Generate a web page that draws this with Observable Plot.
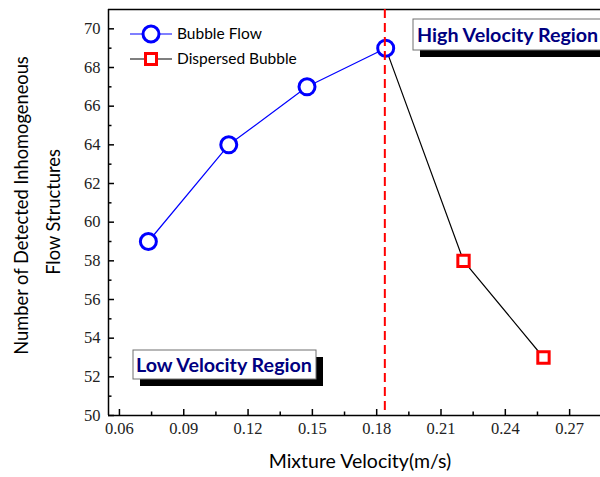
<!DOCTYPE html>
<html><head><meta charset="utf-8">
<script src="https://cdn.jsdelivr.net/npm/d3@7"></script>
<script src="https://cdn.jsdelivr.net/npm/@observablehq/plot@0.6"></script>
<style>body{margin:0;background:#fff;overflow:hidden}</style>
</head><body><div id="chart"></div>
<script>
const xTicks = [0.06, 0.09, 0.12, 0.15, 0.18, 0.21, 0.24, 0.27];
const xMinorTicks = [0.075, 0.105, 0.135, 0.165, 0.195, 0.225, 0.255];
const yTicks = [50, 52, 54, 56, 58, 60, 62, 64, 66, 68, 70];
const yMinorTicks = [51, 53, 55, 57, 59, 61, 63, 65, 67, 69];
const bubbleX = [0.0735, 0.111, 0.1475, 0.1842];
const bubbleY = [59, 64, 67, 69];
const dispersedX = [0.2205, 0.2578];
const dispersedY = [58, 53];
const transitionX = 0.1838;
const seriesNames = ["Bubble Flow", "Dispersed Bubble"];
const regionLabels = ["High Velocity Region", "Low Velocity Region"];
const xLabel = "Mixture Velocity(m/s)";
const yLabel = ["Number of Detected Inhomogeneous", "Flow Structures"];

const bubble = bubbleX.map((x, i) => ({x, y: bubbleY[i]}));
const dispersed = dispersedX.map((x, i) => ({x, y: dispersedY[i]}));
const connector = [bubble[bubble.length - 1], ...dispersed];

const SANS = "Lato, 'Open Sans', sans-serif";
const SERIF = "'Liberation Serif', 'DejaVu Serif', serif";

function overlay(index, scales, values, dims) {
  const g = d3.create("svg:g").attr("text-anchor", "start");
  const L = dims.marginLeft, T = dims.marginTop;
  // Legend
  const lg = g.append("g").attr("font-family", SANS).attr("font-size", 15.5);
  const rows = [
    {y: T + 25, line: "blue", kind: "circle", stroke: "blue"},
    {y: T + 50, line: "black", kind: "square", stroke: "red"}
  ];
  rows.forEach((r, i) => {
    lg.append("line").attr("x1", L + 22).attr("x2", L + 64).attr("y1", r.y).attr("y2", r.y)
      .attr("stroke", r.line).attr("stroke-width", 1.2);
    if (r.kind === "circle") {
      lg.append("circle").attr("cx", L + 43).attr("cy", r.y).attr("r", 8)
        .attr("fill", "white").attr("stroke", r.stroke).attr("stroke-width", 3);
    } else {
      lg.append("rect").attr("x", L + 43 - 5.5).attr("y", r.y - 5.5).attr("width", 11).attr("height", 11)
        .attr("fill", "white").attr("stroke", r.stroke).attr("stroke-width", 3);
    }
    lg.append("text").attr("x", L + 69).attr("y", r.y).attr("dy", "0.35em").text(seriesNames[i]);
  });
  // Region boxes
  const boxes = [
    {x: L + 305, y: T + 10, w: 200, h: 31, text: regionLabels[0], tx: L + 309},
    {x: L + 25, y: T + 341, w: 183, h: 29, text: regionLabels[1], tx: L + 28}
  ];
  boxes.forEach(b => {
    g.append("rect").attr("x", b.x + 7).attr("y", b.y + 7).attr("width", b.w).attr("height", b.h).attr("fill", "black");
    g.append("rect").attr("x", b.x).attr("y", b.y).attr("width", b.w).attr("height", b.h)
      .attr("fill", "white").attr("stroke", "#707070").attr("stroke-width", 1);
    g.append("text").attr("x", b.tx).attr("y", b.y + b.h / 2).attr("dy", "0.36em")
      .attr("font-family", SANS).attr("font-weight", "bold").attr("font-size", 19.7)
      .attr("fill", "#000080").text(b.text);
  });
  // Axis titles
  g.append("text").attr("x", 360).attr("y", dims.height - 9)
    .attr("text-anchor", "middle").attr("font-family", SANS).attr("font-size", 19.5).text(xLabel);
  [[22, 205.5], [54, 212]].forEach(([x, cy], i) => {
    g.append("text").attr("transform", `translate(${x},${cy}) rotate(-90)`).attr("dy", "0.35em")
      .attr("text-anchor", "middle").attr("font-family", SANS).attr("font-size", 18.3).text(yLabel[i]);
  });
  return g.node();
}

const chart = Plot.plot({
  width: 600,
  height: 477,
  marginLeft: 108,
  marginRight: 0,
  marginTop: 9,
  marginBottom: 62,
  style: {background: "white", overflow: "visible"},
  x: {domain: [0.0549, 0.2844], label: null},
  y: {domain: [50, 71], label: null},
  marks: [
    Plot.axisX({ticks: xTicks, tickSize: -6, text: null, strokeWidth: 1.5, label: null}),
    Plot.axisX({ticks: xMinorTicks, tickSize: -3.5, text: null, strokeWidth: 1.5, label: null}),
    Plot.axisX({ticks: xTicks, tickSize: 0, tickPadding: 7, tickFormat: d3.format(".2f"), label: null,
      fontSize: 16.5, fontFamily: SERIF, fill: "#222"}),
    Plot.axisY({ticks: yTicks, tickSize: -6, text: null, strokeWidth: 1.5, label: null}),
    Plot.axisY({ticks: yMinorTicks, tickSize: -3.5, text: null, strokeWidth: 1.5, label: null}),
    Plot.axisY({ticks: yTicks, tickSize: 0, tickPadding: 8, label: null,
      fontSize: 16.5, fontFamily: SERIF, fill: "#222"}),
    Plot.ruleY([71], {stroke: "black", strokeWidth: 1.5}),
    Plot.ruleY([50], {stroke: "black", strokeWidth: 1.5}),
    Plot.ruleX([0.0549], {stroke: "black", strokeWidth: 1.5}),
    Plot.line(bubble, {x: "x", y: "y", stroke: "blue", strokeWidth: 1.2}),
    Plot.line(connector, {x: "x", y: "y", stroke: "black", strokeWidth: 1.2}),
    Plot.dot(bubble, {x: "x", y: "y", r: 8, fill: "white", stroke: "blue", strokeWidth: 3}),
    Plot.dot(dispersed, {x: "x", y: "y", r: 6.4, symbol: "square", fill: "white", stroke: "red", strokeWidth: 3}),
    Plot.ruleX([transitionX], {stroke: "red", strokeWidth: 2, strokeDasharray: "9,5"}),
    overlay
  ]
});
document.getElementById("chart").append(chart);
</script>
</body></html>
